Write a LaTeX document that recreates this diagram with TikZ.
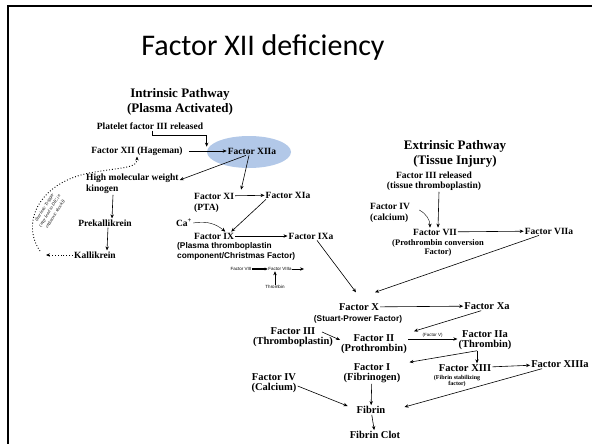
\documentclass[tikz,border=0pt]{standalone}
\usepackage{fontspec}
\setmainfont{Liberation Serif}
\setsansfont{Liberation Sans}
\newfontfamily\titlefont{Carlito}
\usetikzlibrary{arrows.meta}

\tikzset{
  fac/.style={font=\bfseries\fontsize{9.5}{10.5}\selectfont, inner sep=1pt, align=center},
  big/.style={font=\bfseries\fontsize{10.5}{10}\selectfont, inner sep=1pt, align=center},
  hdr/.style={font=\bfseries\fontsize{13}{15}\selectfont, inner sep=1pt, align=center},
  note/.style={font=\sffamily\bfseries\fontsize{8.3}{10.5}\selectfont, inner sep=1pt, align=left},
  wee/.style={font=\sffamily\fontsize{4.5}{5}\selectfont, inner sep=0.5pt},
  flow/.style={-{Stealth[length=4pt,width=3.4pt]}, line width=0.6pt},
  faint/.style={flow, line width=0.4pt}
}
\definecolor{haze}{RGB}{178,200,232}

\begin{document}
\begin{tikzpicture}[x=1pt, y=-1pt]
  \useasboundingbox (0,0) rectangle (592,444);
  \fill[white] (0,0) rectangle (592,444);
  \draw[line width=2pt] (8,444) -- (8,6) -- (592,6);

  \node[font=\titlefont\fontsize{30}{32}\selectfont, anchor=base] (title) at (263,56) {Factor XII deficiency};

  % intrinsic pathway
  \fill[haze] (249,152) ellipse [x radius=42, y radius=16];
  \node[hdr] (intr) at (180,102) {Intrinsic Pathway\\(Plasma Activated)};
  \node[fac] (plt) at (150,126) {Platelet factor III released};
  \node[fac] (xii) at (137,151) {Factor XII (Hageman)};
  \node[fac] (xiia) at (252,151) {Factor XIIa};
  \node[fac, align=left, anchor=west] (hmw) at (85,184) {High molecular weight\\kinogen};
  \node[fac] (prek) at (105,223) {Prekallikrein};
  \node[fac] (kal) at (95,255) {Kallikrein};
  \node[font=\itshape\fontsize{4.6}{6.2}\selectfont, align=center, rotate=58, inner sep=0pt] (trig) at (50,211)
    {(Intrinsic Trigger\\(may lead to DIC in\\endotoxic shock))};
  \node[fac, anchor=west] (xi) at (193,196) {Factor XI};
  \node[fac, anchor=west] (pta) at (193,208) {(PTA)};
  \node[fac] (xia) at (288,195) {Factor XIa};
  \node[fac] (ca) at (184,223) {Ca\textsuperscript{+}};
  \node[fac, anchor=west] (ix) at (193,236) {Factor IX};
  \node[note, anchor=north west] (ixnote) at (176,241) {(Plasma thromboplastin\\component/Christmas Factor)};
  \node[fac] (ixa) at (311,236) {Factor IXa};
  \node[wee] (viii) at (241,269) {Factor VIII};
  \node[wee] (viiia) at (280,269) {Factor VIIIa};
  \node[wee] (thr) at (275,287) {Thrombin};
  \coordinate (viiiend) at (304,269);
  \coordinate (loop) at (40,251);

  % extrinsic pathway
  \node[hdr] (extr) at (455,154) {Extrinsic Pathway\\(Tissue Injury)};
  \node[fac] (fiii) at (434,181) {Factor III released\\(tissue thromboplastin)};
  \node[fac, align=left, anchor=west] (fiv) at (369,213) {Factor IV\\(calcium)};
  \node[fac] (vii) at (435,232) {Factor VII};
  \node[fac, font=\bfseries\fontsize{8.5}{9.5}\selectfont] (viinote) at (438,248) {(Prothrombin conversion\\Factor)};
  \node[fac] (viia) at (549,231) {Factor VIIa};

  % common pathway
  \node[big] (x) at (359,307) {Factor X};
  \node[note] (xnote) at (358,319) {(Stuart-Prower Factor)};
  \node[big] (xa) at (487,306) {Factor Xa};
  \node[big] (iii) at (293,337) {Factor III\\(Thromboplastin)};
  \node[big] (ii) at (374,344) {Factor II\\(Prothrombin)};
  \node[big] (iia) at (485,340) {Factor IIa\\(Thrombin)};
  \node[big] (i) at (372,373) {Factor I\\(Fibrinogen)};
  \node[big] (xiii) at (465,368) {Factor XIII};
  \node[fac, font=\bfseries\fontsize{6}{6.5}\selectfont] (xiiinote) at (457,381) {(Fibrin stabilizing\\factor)};
  \node[big] (xiiia) at (560,364) {Factor XIIIa};
  \node[big] (ivb) at (274,383) {Factor IV\\(Calcium)};
  \node[big] (fib) at (371,410) {Fibrin};
  \node[big] (clot) at (375,435) {Fibrin Clot};

  % intrinsic arrows
  \draw[flow] ([xshift=2]plt.south) -- ++(0,5) -| ([xshift=-20]xiia.north west);
  \draw[faint, shorten <=5pt] (xii.east) -- (xiia.west);
  \draw[flow] ([xshift=-6]xiia.south) -- ([yshift=4]hmw.east);
  \draw[flow] ([xshift=-3]xiia.south) -- ([xshift=27,yshift=2]xi.north);
  \draw[flow] ([xshift=28]hmw.south west) -- ([xshift=7]prek.north);
  \draw[flow] ([xshift=3]prek.south) -- ([xshift=12]kal.north);
  \draw[dotted, line width=0.9pt, -{Stealth[length=4pt,width=3.4pt]}] (kal.west) -- (46,255);
  \draw[dotted, line width=0.9pt, -{Stealth[length=4pt,width=3.4pt]}] (loop)
    .. controls (20,222) and (40,180) .. (95,172) .. controls (125,167) and (137,168) .. (xii.south);
  \draw[flow] (xi) -- (xia);
  \draw[flow] ([xshift=-22]xia.south) -- ([xshift=-4]ix.north east);
  \draw[faint] (ca.east) to[bend left=25] ([xshift=-10]ix.north east);
  \draw[flow] (ix) -- (ixa);
  \draw[-{Stealth[length=3pt,width=3pt]}, line width=1.1pt] (viii) -- (viiia);
  \draw[faint] (viiia) -- (viiiend);
  \draw[faint] (thr.north) -- (thr |- viiia.south);
  \draw[flow] ([xshift=6]ixa.south) -- ([xshift=-3pt,yshift=10pt]x.north);

  % extrinsic arrows
  \draw[flow] ([xshift=5]fiii.south) -- ([xshift=3]vii.north);
  \draw[faint] ([xshift=8,yshift=3]fiv.east) to[bend left=30] ([xshift=-5]vii.north);
  \draw[flow] (vii) -- (viia);
  \draw[flow] ([xshift=-10]viia.south) -- ([xshift=16pt,yshift=10pt]x.north);

  % common arrows
  \draw[flow] (x) -- (xa);
  \draw[flow] ([xshift=18]xa.south west) -- ([xshift=6,yshift=2]ii.north east);
  \draw[flow] ([xshift=-12,yshift=5]iii.east) -- ([yshift=4]ii.west);
  \draw[flow] ([yshift=5]ii.east) -- ([yshift=1]iia.west)
    node[wee, midway, above=1pt] (fv) {(Factor V)};
  \draw[flow] ([xshift=-8]iia.south) -- ([xshift=8]i.north east);
  \draw[flow] ([xshift=-8]iia.south) -- ([xshift=12]xiii.north);
  \draw[flow] (xiii) -- (xiiia);
  \draw[flow] ([xshift=-18]xiiia.south) -- ([xshift=18,yshift=3]fib.east);
  \draw[flow] (i) -- (fib);
  \draw[flow] ([yshift=-3]ivb.east) -- ([xshift=-8,yshift=4]fib.west);
  \draw[flow] (fib) -- (clot);
\end{tikzpicture}
\end{document}
